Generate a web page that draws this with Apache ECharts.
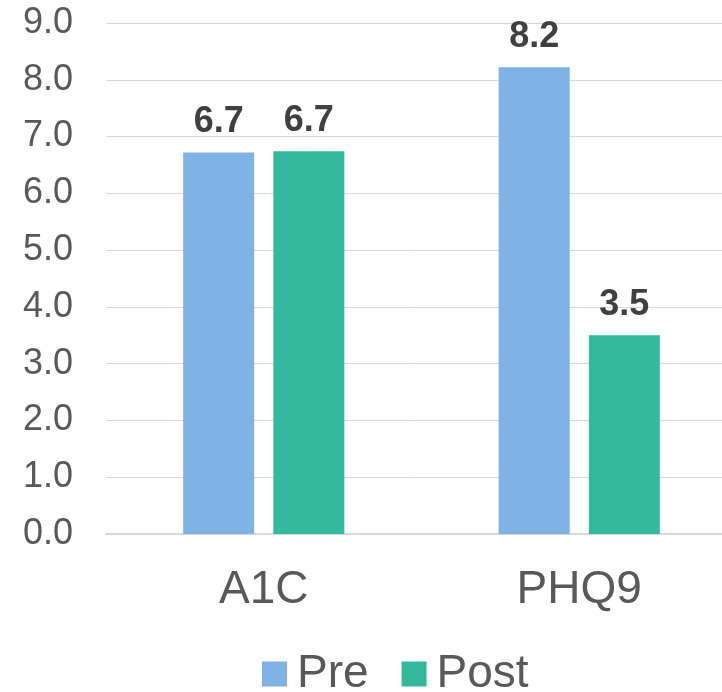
<!DOCTYPE html>
<html>
<head>
<meta charset="utf-8">
<script src="https://cdn.jsdelivr.net/npm/echarts@6/dist/echarts.min.js"></script>
<style>
  html, body { margin: 0; padding: 0; background: #ffffff; }
  #chart { width: 722px; height: 692px; }
</style>
</head>
<body>
<div id="chart"></div>
<script>
// Measures compared before and after the program
const categories = ['A1C', 'PHQ9'];
const preValues = [6.72, 8.22];
const postValues = [6.74, 3.50];
const seriesNames = ['Pre', 'Post'];
const yTicks = { min: 0, max: 9, interval: 1 };

const FONT = '"Liberation Sans", Arial, sans-serif';

const chart = echarts.init(document.getElementById('chart'), null, { renderer: 'canvas' });

const valueLabel = {
  show: true,
  position: 'top',
  distance: 12,
  fontFamily: FONT,
  fontSize: 36,
  fontWeight: 'bold',
  color: '#404040',
  formatter: p => p.value.toFixed(1)
};

chart.setOption({
  backgroundColor: '#ffffff',
  animation: false,
  // the plot runs a little past the right edge of the canvas
  grid: { left: 106, top: 23, width: 631, height: 511, containLabel: false, outerBoundsMode: 'none' },
  legend: {
    top: 646,
    left: 257,
    icon: 'rect',
    itemWidth: 25,
    itemHeight: 25,
    itemGap: 33,
    textStyle: { fontFamily: FONT, fontSize: 46, color: '#595959', padding: [0, 0, 0, 5] },
    data: seriesNames
  },
  xAxis: {
    type: 'category',
    data: categories,
    axisTick: { show: false },
    axisLine: { show: true, lineStyle: { color: '#d9d9d9', width: 2 } },
    axisLabel: { margin: 33, fontFamily: FONT, fontSize: 46, color: '#595959' }
  },
  yAxis: {
    type: 'value',
    min: yTicks.min,
    max: yTicks.max,
    interval: yTicks.interval,
    axisLine: { show: false },
    axisTick: { show: false },
    splitLine: { lineStyle: { color: '#d9d9d9', width: 1 } },
    axisLabel: {
      margin: 33,
      fontFamily: FONT,
      fontSize: 36,
      color: '#595959',
      formatter: v => v.toFixed(1)
    }
  },
  series: [
    {
      name: seriesNames[0],
      type: 'bar',
      data: preValues,
      barWidth: 71,
      barGap: '27%',
      itemStyle: { color: '#7FB2E5' },
      label: valueLabel
    },
    {
      name: seriesNames[1],
      type: 'bar',
      data: postValues,
      barWidth: 71,
      barGap: '27%',
      itemStyle: { color: '#33B99B' },
      label: valueLabel
    }
  ]
});
</script>
</body>
</html>
